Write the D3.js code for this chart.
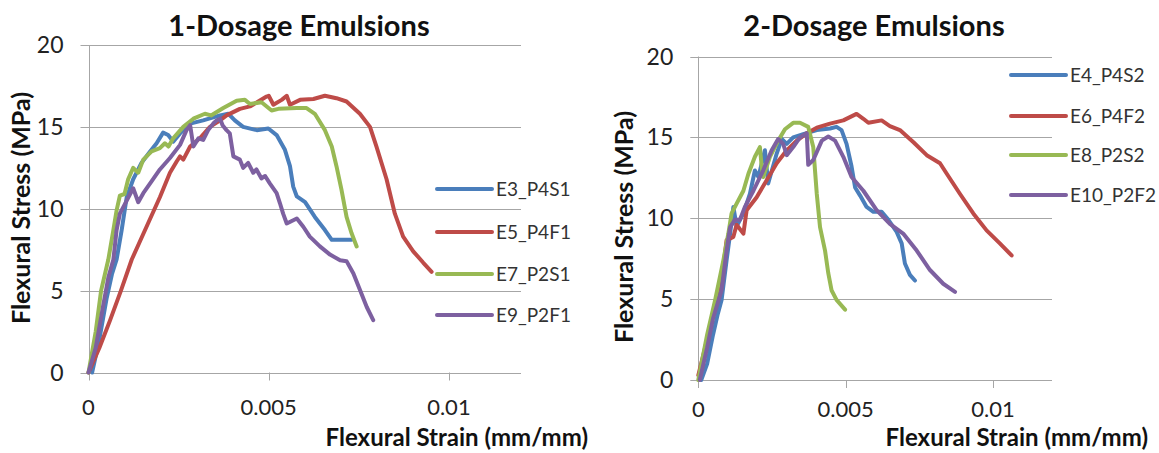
<!DOCTYPE html>
<html>
<head>
<meta charset="utf-8">
<script src="https://cdn.jsdelivr.net/npm/d3@7"></script>
<style>
  body { margin: 0; background: #fff; }
  text { font-family: Lato, "Liberation Sans", sans-serif; }
</style>
</head>
<body>
<div class="canvas"></div>
<script>
// ---- data (strain mm/mm, stress MPa) ----
const xTicks = [0, 0.005, 0.01];
const yTicks = [0, 5, 10, 15, 20];
const colours = ['#4a7ebb', '#be4b48', '#98b954', '#7d60a0'];

const names1 = ['E3_P4S1', 'E5_P4F1', 'E7_P2S1', 'E9_P2F1'];
const names2 = ['E4_P4S2', 'E6_P4F2', 'E8_P2S2', 'E10_P2F2'];

const e3_p4s1 = [[0.0001,0],[0.0003,2],[0.0005,4.5],[0.00065,6],[0.00078,6.9],[0.00092,8.7],[0.00106,10.7],[0.00124,11.8],[0.00147,12.8],[0.00171,13.5],[0.00189,14.0],[0.00207,14.65],[0.00221,14.5],[0.00235,14.1],[0.00254,14.6],[0.00282,15.2],[0.00318,15.4],[0.00365,15.7],[0.00388,15.8],[0.00406,15.4],[0.00429,15.0],[0.00467,14.8],[0.00499,14.9],[0.00522,14.5],[0.00545,13.6],[0.00559,12.6],[0.00568,11.35],[0.00578,10.75],[0.00601,10.4],[0.00628,9.5],[0.00656,8.7],[0.00675,8.1],[0.0073,8.1]];
const e5_p4f1 = [[0,0],[0.0003,1.5],[0.0006,3.2],[0.0009,5.0],[0.0012,6.9],[0.00161,8.9],[0.00198,10.7],[0.00226,12.2],[0.00245,12.9],[0.00254,13.2],[0.00263,13.0],[0.00282,13.8],[0.00309,14.3],[0.00337,15.0],[0.00365,15.4],[0.00383,15.7],[0.0042,16.1],[0.00448,16.25],[0.00471,16.55],[0.00494,16.85],[0.005,16.9],[0.00513,16.35],[0.00536,16.65],[0.0055,16.9],[0.00559,16.35],[0.00587,16.65],[0.00624,16.7],[0.00656,16.9],[0.00688,16.75],[0.00716,16.55],[0.00753,15.8],[0.00781,15.0],[0.00799,13.8],[0.00827,11.8],[0.0085,9.7],[0.00873,8.3],[0.00901,7.4],[0.00929,6.7],[0.00952,6.15]];
const e7_p2s1 = [[0,0],[0.0002,2.5],[0.00035,5],[0.00055,6.9],[0.00069,8.7],[0.00078,9.9],[0.00087,10.8],[0.001,10.9],[0.0011,11.8],[0.00124,12.5],[0.00138,12.2],[0.00152,13.0],[0.00175,13.5],[0.00198,13.7],[0.00212,14.0],[0.00222,13.8],[0.00235,14.3],[0.00263,15.0],[0.00291,15.5],[0.00323,15.8],[0.0034,15.7],[0.00374,16.15],[0.00411,16.6],[0.00434,16.65],[0.00448,16.4],[0.0048,16.5],[0.00508,16.0],[0.00527,16.1],[0.00578,16.15],[0.00605,16.15],[0.00628,15.8],[0.00656,14.8],[0.00675,13.8],[0.00688,12.6],[0.00702,11.15],[0.00716,9.5],[0.0073,8.5],[0.00744,7.7]];
const e9_p2f1 = [[0,0],[0.0002,1.5],[0.0004,4],[0.00055,5.8],[0.00069,6.9],[0.00078,8.7],[0.00087,9.7],[0.00106,10.5],[0.00124,11.25],[0.00138,10.4],[0.00152,10.95],[0.00171,11.55],[0.00198,12.4],[0.00226,13.1],[0.00254,13.9],[0.00272,14.8],[0.00282,15.1],[0.00291,13.8],[0.00305,14.3],[0.00318,14.2],[0.00332,14.8],[0.00346,15.2],[0.00356,15.4],[0.00365,15.5],[0.00372,15.1],[0.00383,14.8],[0.00392,14.6],[0.00402,13.2],[0.0042,13.0],[0.00429,12.5],[0.00443,12.8],[0.00457,12.2],[0.00466,12.4],[0.0048,11.85],[0.0049,12.0],[0.00503,11.55],[0.00522,10.95],[0.00531,10.35],[0.0054,9.7],[0.0055,9.1],[0.00578,9.4],[0.00596,8.9],[0.00614,8.3],[0.00642,7.7],[0.0067,7.2],[0.00698,6.85],[0.00716,6.8],[0.00735,6.05],[0.00753,5.05],[0.00772,4.0],[0.0079,3.2]];

const e4_p4s2 = [[0.0001,0],[0.0003,1],[0.0005,2.8],[0.00065,4],[0.00079,4.94],[0.00096,7.4],[0.00108,9.06],[0.00119,10.7],[0.0013,9.5],[0.00153,10.3],[0.00175,11.5],[0.00192,12.95],[0.00204,12.55],[0.00226,14.2],[0.00237,12.15],[0.00266,14.0],[0.00283,14.9],[0.003,14.6],[0.00322,15.0],[0.00356,15.2],[0.00402,15.45],[0.00447,15.55],[0.00469,15.65],[0.00486,15.45],[0.00503,14.6],[0.0052,13.2],[0.00532,11.9],[0.00549,11.4],[0.00571,10.7],[0.00594,10.4],[0.00622,10.4],[0.00645,9.9],[0.00673,9.15],[0.0069,8.45],[0.00701,7.2],[0.00718,6.5],[0.00735,6.15]];
const e6_p4f2 = [[0,0.3],[0.0003,2.5],[0.0006,5],[0.00085,7.0],[0.00096,8.65],[0.00119,8.85],[0.0013,9.6],[0.00153,9.05],[0.00164,10.5],[0.00198,11.3],[0.00232,12.35],[0.00266,13.4],[0.003,14.2],[0.00334,14.8],[0.00368,15.25],[0.00402,15.6],[0.00447,15.85],[0.00492,16.05],[0.00537,16.45],[0.0056,16.15],[0.00577,15.9],[0.00622,16.05],[0.0065,15.7],[0.00684,15.45],[0.0073,14.7],[0.00775,13.9],[0.0082,13.4],[0.00843,12.75],[0.00888,11.5],[0.00933,10.3],[0.00978,9.25],[0.01023,8.45],[0.01063,7.7]];
const e8_p2s2 = [[0,0],[0.0003,2.8],[0.00057,4.94],[0.00085,7.4],[0.00102,9.06],[0.00113,10.3],[0.0013,10.9],[0.00153,11.7],[0.0017,12.75],[0.00192,13.8],[0.00209,14.4],[0.00215,13.2],[0.0022,12.55],[0.00243,13.8],[0.00271,14.8],[0.00294,15.5],[0.00322,15.9],[0.00345,15.9],[0.00373,15.65],[0.0039,14.4],[0.00402,11.5],[0.00413,9.45],[0.0043,8.0],[0.00441,6.6],[0.00452,5.55],[0.00469,4.95],[0.00498,4.35]];
const e10_p2f2 = [[0.00005,0],[0.0003,2],[0.0005,3.8],[0.00079,5.56],[0.00096,8.0],[0.00108,9.45],[0.00124,9.9],[0.00141,9.9],[0.00158,10.7],[0.00187,11.7],[0.0022,12.95],[0.00249,14.2],[0.00271,14.9],[0.00288,14.6],[0.003,13.9],[0.00322,14.4],[0.00345,15.0],[0.00368,15.25],[0.00373,13.3],[0.0039,13.6],[0.00419,14.8],[0.00441,15.05],[0.00464,14.8],[0.00492,13.8],[0.0052,12.55],[0.0056,11.7],[0.00605,10.5],[0.0065,9.65],[0.00695,9.05],[0.00741,8.0],[0.00786,6.8],[0.00831,5.95],[0.00871,5.45]];

const svg = d3.select('.canvas')
  .append('svg')
  .attr('width', 1159)
  .attr('height', 453);

svg.append('rect').attr('width', 1159).attr('height', 453).attr('fill', '#fff');

function drawChart(opt) {
  const x = d3.scaleLinear().domain([0, 0.012]).range([opt.left, opt.right]);
  const y = d3.scaleLinear().domain([0, 20]).range([opt.bottom, opt.top]);
  const g = svg.append('g');

  // horizontal gridlines + left ticks
  g.selectAll('.grid')
    .data(yTicks)
    .enter()
    .append('line')
    .attr('x1', opt.left - 8)
    .attr('x2', opt.right)
    .attr('y1', d => Math.round(y(d)) + 0.5)
    .attr('y2', d => Math.round(y(d)) + 0.5)
    .attr('stroke', '#a6a6a6')
    .attr('stroke-width', 1);

  // vertical axis
  g.append('line')
    .attr('x1', Math.round(x(0)) + 0.5).attr('x2', Math.round(x(0)) + 0.5)
    .attr('y1', y(20)).attr('y2', y(0) + 8)
    .attr('stroke', '#a6a6a6');

  // x tick marks
  g.selectAll('.xtick')
    .data(xTicks.slice(1))
    .enter()
    .append('line')
    .attr('x1', d => Math.round(x(d)) + 0.5)
    .attr('x2', d => Math.round(x(d)) + 0.5)
    .attr('y1', y(0))
    .attr('y2', y(0) + 8)
    .attr('stroke', '#a6a6a6');

  // y tick labels
  g.selectAll('.ylab')
    .data(yTicks)
    .enter()
    .append('text')
    .attr('x', opt.left - 25)
    .attr('y', d => y(d) + 8)
    .attr('text-anchor', 'end')
    .attr('font-size', 23)
    .attr('fill', '#222')
    .text(d => d);

  // x tick labels
  g.selectAll('.xlab')
    .data(xTicks)
    .enter()
    .append('text')
    .attr('x', d => x(d))
    .attr('y', y(0) + opt.xLabOffset)
    .attr('text-anchor', 'middle')
    .attr('font-size', 22)
    .attr('fill', '#222')
    .text(d => d);

  // series
  const line = d3.line()
    .x(d => x(d[0]))
    .y(d => y(d[1]));

  opt.series.forEach((s, i) => {
    g.append('path')
      .datum(s)
      .attr('fill', 'none')
      .attr('stroke', colours[i])
      .attr('stroke-width', 4)
      .attr('stroke-linejoin', 'round')
      .attr('stroke-linecap', 'round')
      .attr('d', line);
  });

  // titles
  g.append('text')
    .attr('x', opt.titleX)
    .attr('y', 36)
    .attr('text-anchor', 'middle')
    .attr('font-size', 29)
    .attr('font-weight', 'bold')
    .attr('fill', '#111')
    .text(opt.title);

  g.append('text')
    .attr('transform', `translate(${opt.yTitleX}, ${opt.yTitleY}) rotate(-90)`)
    .attr('text-anchor', 'middle')
    .attr('font-size', 25)
    .attr('font-weight', 'bold')
    .attr('fill', '#111')
    .text('Flexural Stress (MPa)');

  g.append('text')
    .attr('x', opt.xTitleEnd)
    .attr('y', 446)
    .attr('text-anchor', 'end')
    .attr('font-size', 24)
    .attr('font-weight', 'bold')
    .attr('fill', '#111')
    .text('Flexural Strain (mm/mm)');

  // legend
  const legend = g.selectAll('.legend')
    .data(opt.names)
    .enter()
    .append('g')
    .attr('transform', (d, i) => `translate(${opt.legendX}, ${opt.legendY[i]})`);

  legend.append('line')
    .attr('x1', 0).attr('x2', 55)
    .attr('y1', 0).attr('y2', 0)
    .attr('stroke', (d, i) => colours[i])
    .attr('stroke-width', 4)
    .attr('stroke-linecap', 'round');

  legend.append('text')
    .attr('x', 59)
    .attr('y', 7)
    .attr('font-size', 19)
    .attr('fill', '#333')
    .text(d => d);
}

drawChart({
  left: 88.5, right: 521, top: 45, bottom: 372.5,
  series: [e3_p4s1, e5_p4f1, e7_p2s1, e9_p2f1],
  names: names1,
  title: '1-Dosage Emulsions', titleX: 299,
  yTitleX: 30, yTitleY: 208,
  xTitleEnd: 588, xLabOffset: 42,
  legendX: 437, legendY: [189, 232, 274, 315]
});

drawChart({
  left: 698.3, right: 1052, top: 56.5, bottom: 380,
  series: [e4_p4s2, e6_p4f2, e8_p2s2, e10_p2f2],
  names: names2,
  title: '2-Dosage Emulsions', titleX: 874,
  yTitleX: 633, yTitleY: 227,
  xTitleEnd: 1148, xLabOffset: 37,
  legendX: 1011, legendY: [75, 116, 155, 195]
});
</script>
</body>
</html>
